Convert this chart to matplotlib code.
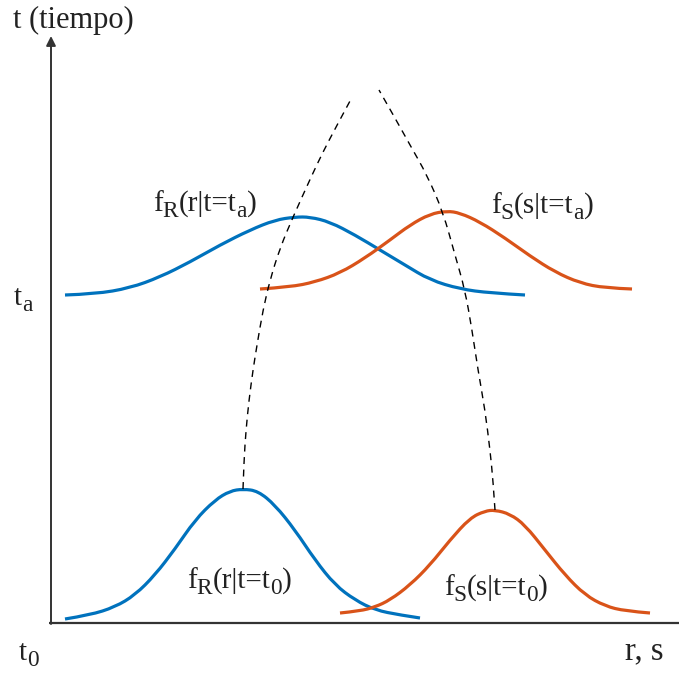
import matplotlib.pyplot as plt
import numpy as np
from matplotlib.path import Path
from matplotlib.patches import PathPatch

plt.rcParams['font.family'] = ['Liberation Serif', 'DejaVu Serif']

BLUE = '#0072BD'
ORANGE = '#D95319'
AXIS = '#333333'
TXT = '#222222'

# density curves, traced in figure pixel coordinates (x, y down)
fr_t0_x = [65, 90, 115, 135, 155, 175, 195, 215, 230, 243, 258, 275, 295, 315, 335, 355, 375, 400, 420]
fr_t0_y = [619, 615, 607, 595, 575, 549, 520, 500, 491, 489, 491, 505, 530, 560, 585, 600, 610, 615, 618]

fs_t0_x = [340, 360, 375, 390, 410, 430, 450, 470, 485, 495, 510, 525, 545, 565, 585, 605, 625, 650]
fs_t0_y = [613, 611, 607, 600, 585, 565, 540, 518, 511, 510, 514, 525, 550, 575, 595, 606, 611, 613]

fr_ta_x = [65, 95, 130, 160, 190, 220, 250, 275, 295, 310, 330, 355, 380, 405, 430, 460, 490, 525]
fr_ta_y = [295, 294, 288, 277, 262, 245, 230, 220, 217, 217, 222, 235, 250, 265, 280, 289, 293, 295]

fs_ta_x = [260, 290, 315, 340, 365, 390, 410, 430, 447, 460, 480, 505, 530, 555, 580, 605, 632]
fs_ta_y = [289, 287, 282, 273, 258, 240, 225, 214, 211, 213, 222, 238, 256, 272, 283, 288, 289]

# mean trajectories (dashed)
mr_x = [243, 244, 246, 249, 253, 257, 263, 270, 280, 293, 312, 323, 336, 350]
mr_y = [489, 460, 430, 400, 370, 345, 310, 280, 248, 217, 175, 152, 127, 101]

ms_x = [495, 493, 490, 485, 478, 472, 465, 455, 443, 427, 410, 395, 379]
ms_y = [510, 480, 450, 410, 370, 330, 290, 255, 212, 175, 145, 118, 90]

# labels: (x, baseline y, size, [(text, is_subscript), ...])
labels = [
    (153, 211, 21, [('f', 0), ('R', 1), ('(r|t=t', 0), ('a', 1), (')', 0)]),
    (491, 213, 21, [('f', 0), ('S', 1), ('(s|t=t', 0), ('a', 1), (')', 0)]),
    (187, 588, 21, [('f', 0), ('R', 1), ('(r|t=t', 0), ('0', 1), (')', 0)]),
    (444, 595, 21, [('f', 0), ('S', 1), ('(s|t=t', 0), ('0', 1), (')', 0)]),
    (14, 305, 21, [('t', 0), ('a', 1)]),
    (19, 660, 21, [('t', 0), ('0', 1)]),
    (625, 659, 23.5, [('r, s', 0)]),
    (13, 28, 22, [('t (tiempo)', 0)]),
]


def smooth_path(xs, ys):
    # quadratic bezier through midpoints, points act as control points
    pts = list(zip(xs, ys))
    verts = [pts[0]]
    codes = [Path.MOVETO]
    for i in range(1, len(pts) - 1):
        mid = ((pts[i][0] + pts[i + 1][0]) / 2, (pts[i][1] + pts[i + 1][1]) / 2)
        if i == len(pts) - 2:
            mid = pts[-1]
        verts += [pts[i], mid]
        codes += [Path.CURVE3, Path.CURVE3]
    return Path(verts, codes)


fig = plt.figure(figsize=(6.79, 6.73), dpi=100)
ax = fig.add_axes([0, 0, 1, 1])
ax.set_xlim(0, 679)
ax.set_ylim(673, 0)
ax.axis('off')

# axes
ax.plot([49, 679], [623, 623], color=AXIS, lw=1.6, solid_capstyle='butt')
ax.annotate('', xy=(51, 36), xytext=(51, 624),
            arrowprops=dict(arrowstyle='-|>', color=AXIS, lw=1.4,
                            mutation_scale=14, shrinkA=0, shrinkB=0))

for xs, ys, c in [(fr_t0_x, fr_t0_y, BLUE), (fs_t0_x, fs_t0_y, ORANGE),
                  (fr_ta_x, fr_ta_y, BLUE), (fs_ta_x, fs_ta_y, ORANGE)]:
    ax.add_patch(PathPatch(smooth_path(xs, ys), fill=False, edgecolor=c, lw=2.3))

for xs, ys in [(mr_x, mr_y), (ms_x, ms_y)]:
    ax.add_patch(PathPatch(smooth_path(xs, ys), fill=False, edgecolor='black',
                           lw=1.0, linestyle=(0, (5, 4))))

# labels drawn piece by piece so subscripts can be sized freely
renderer = fig.canvas.get_renderer()
for x, y, size, parts in labels:
    cx = x
    for s, sub in parts:
        fs = size * 0.8 if sub else size
        yy = y + (6 if sub else 0)
        t = ax.text(cx, yy, s, fontsize=fs, ha='left', va='baseline', color=TXT)
        bb = t.get_window_extent(renderer)
        cx += bb.width * 679 / fig.bbox.width

plt.savefig('out.png', dpi=100)
